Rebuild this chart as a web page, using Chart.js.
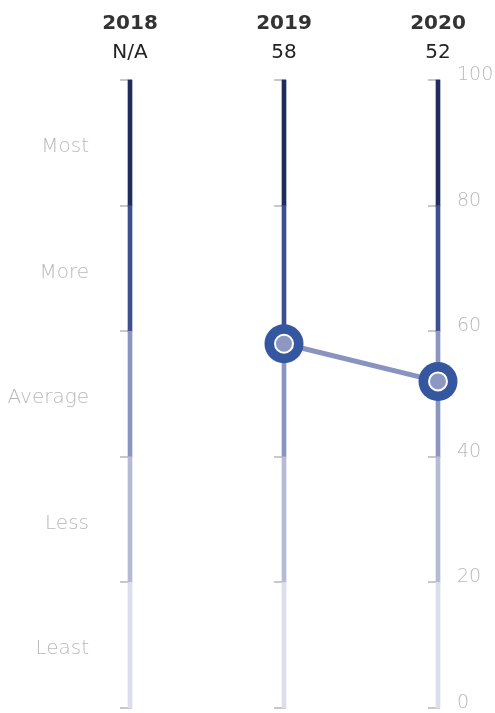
<!DOCTYPE html>
<html>
<head>
<meta charset="utf-8">
<script src="https://cdn.jsdelivr.net/npm/chart.js@4"></script>
<style>
  html, body { margin: 0; padding: 0; background: #fff; overflow: hidden; }
  canvas { display: block; }
</style>
</head>
<body>
<canvas id="chart" width="495" height="713"></canvas>
<script>
/* global Chart */
const years = ['2018', '2019', '2020'];
const scoreLabels = ['N/A', '58', '52'];
const scores = [null, 58, 52];
const bandLow = [0, 20, 40, 60, 80];
const bandHigh = [20, 40, 60, 80, 100];
const bandColors = ['#dadeed', '#b5bbd5', '#8b96c0', '#3d4f8e', '#1f2c5c'];
const bandNames = ['Least', 'Less', 'Average', 'More', 'Most'];
const bandCenters = [10, 30, 50, 70, 90];

const grey = '#b8b8b8';
const font = '"DejaVu Sans", sans-serif';

const bandSets = bandLow.map((lo, i) => ({
  type: 'bar',
  data: years.map(() => [lo, bandHigh[i]]),
  backgroundColor: bandColors[i],
  barThickness: 4,
  grouped: false,
  clip: false,
  order: 10,
  yAxisID: 'y'
}));

// little grey tick marks on the left side of every column
const columnTicks = {
  id: 'columnTicks',
  beforeDatasetsDraw(chart) {
    const { ctx, scales } = chart;
    ctx.save();
    ctx.strokeStyle = '#c8c8c8';
    ctx.lineWidth = 2;
    years.forEach((_, i) => {
      const x = scales.x.getPixelForValue(i);
      [0, 20, 40, 60, 80, 100].forEach((v) => {
        const y = Math.round(scales.y.getPixelForValue(v));
        ctx.beginPath();
        ctx.moveTo(x - 10, y);
        ctx.lineTo(x + 2, y);
        ctx.stroke();
      });
    });
    ctx.restore();
  }
};

// fixed axis sizes, and no extra padding from the tick labels
const noPad = (s) => {
  s.paddingTop = 0;
  s.paddingBottom = 0;
  s.paddingLeft = 0;
  s.paddingRight = 0;
};
const fixWidth = (w) => (s) => { noPad(s); s.width = w; };
const fixHeight = (h) => (s) => { noPad(s); s.height = h; };

new Chart(document.getElementById('chart'), {
  type: 'bar',
  data: {
    labels: years,
    datasets: [
      ...bandSets,
      {
        type: 'line',
        data: scores,
        borderColor: '#8893bf',
        borderWidth: 5,
        pointRadius: 0,
        clip: false,
        order: 3,
        yAxisID: 'y'
      },
      {
        type: 'line',
        data: scores,
        showLine: false,
        pointRadius: 19.5,
        pointBackgroundColor: '#3557a0',
        pointBorderWidth: 0,
        clip: false,
        order: 2,
        yAxisID: 'y'
      },
      {
        type: 'line',
        data: scores,
        showLine: false,
        pointRadius: 9,
        pointBackgroundColor: '#8d98c2',
        pointBorderColor: '#ffffff',
        pointBorderWidth: 2,
        clip: false,
        order: 1,
        yAxisID: 'y'
      }
    ]
  },
  plugins: [columnTicks],
  options: {
    responsive: false,
    animation: false,
    layout: { autoPadding: false, padding: { top: 0, bottom: 5, left: 0, right: 0 } },
    plugins: { legend: { display: false }, tooltip: { enabled: false } },
    scales: {
      x: {
        type: 'category',
        position: 'top',
        offset: false,
        weight: 0,
        grid: { display: false, drawTicks: false },
        border: { display: false },
        ticks: {
          maxRotation: 0,
          autoSkip: false,
          padding: 15,
          color: '#222',
          font: { family: font, size: 20, weight: 400 },
          callback: (v, i) => scoreLabels[i]
        },
        afterFit: fixHeight(43)
      },
      x2: {
        type: 'category',
        labels: years,
        position: 'top',
        offset: false,
        weight: 1,
        grid: { display: false, drawTicks: false },
        border: { display: false },
        ticks: {
          maxRotation: 0,
          autoSkip: false,
          padding: 1,
          color: '#333',
          font: { family: font, size: 20, weight: 700 }
        },
        afterFit: fixHeight(37)
      },
      yL: {
        type: 'linear',
        position: 'left',
        min: 0,
        max: 100,
        grid: { display: false, drawTicks: false },
        border: { display: false },
        afterBuildTicks: (s) => { s.ticks = bandCenters.map((v) => ({ value: v })); },
        ticks: {
          padding: 41,
          labelOffset: 4,
          color: grey,
          font: { family: font, size: 20, weight: 200 },
          callback: (v) => bandNames[bandCenters.indexOf(v)]
        },
        afterFit: fixWidth(130)
      },
      y: {
        type: 'linear',
        position: 'right',
        min: 0,
        max: 100,
        grid: { display: false, drawTicks: false },
        border: { display: false },
        ticks: {
          stepSize: 20,
          padding: 19,
          labelOffset: -5,
          color: grey,
          font: { family: font, size: 19, weight: 200 }
        },
        afterFit: fixWidth(57)
      }
    }
  }
});
</script>
</body>
</html>
